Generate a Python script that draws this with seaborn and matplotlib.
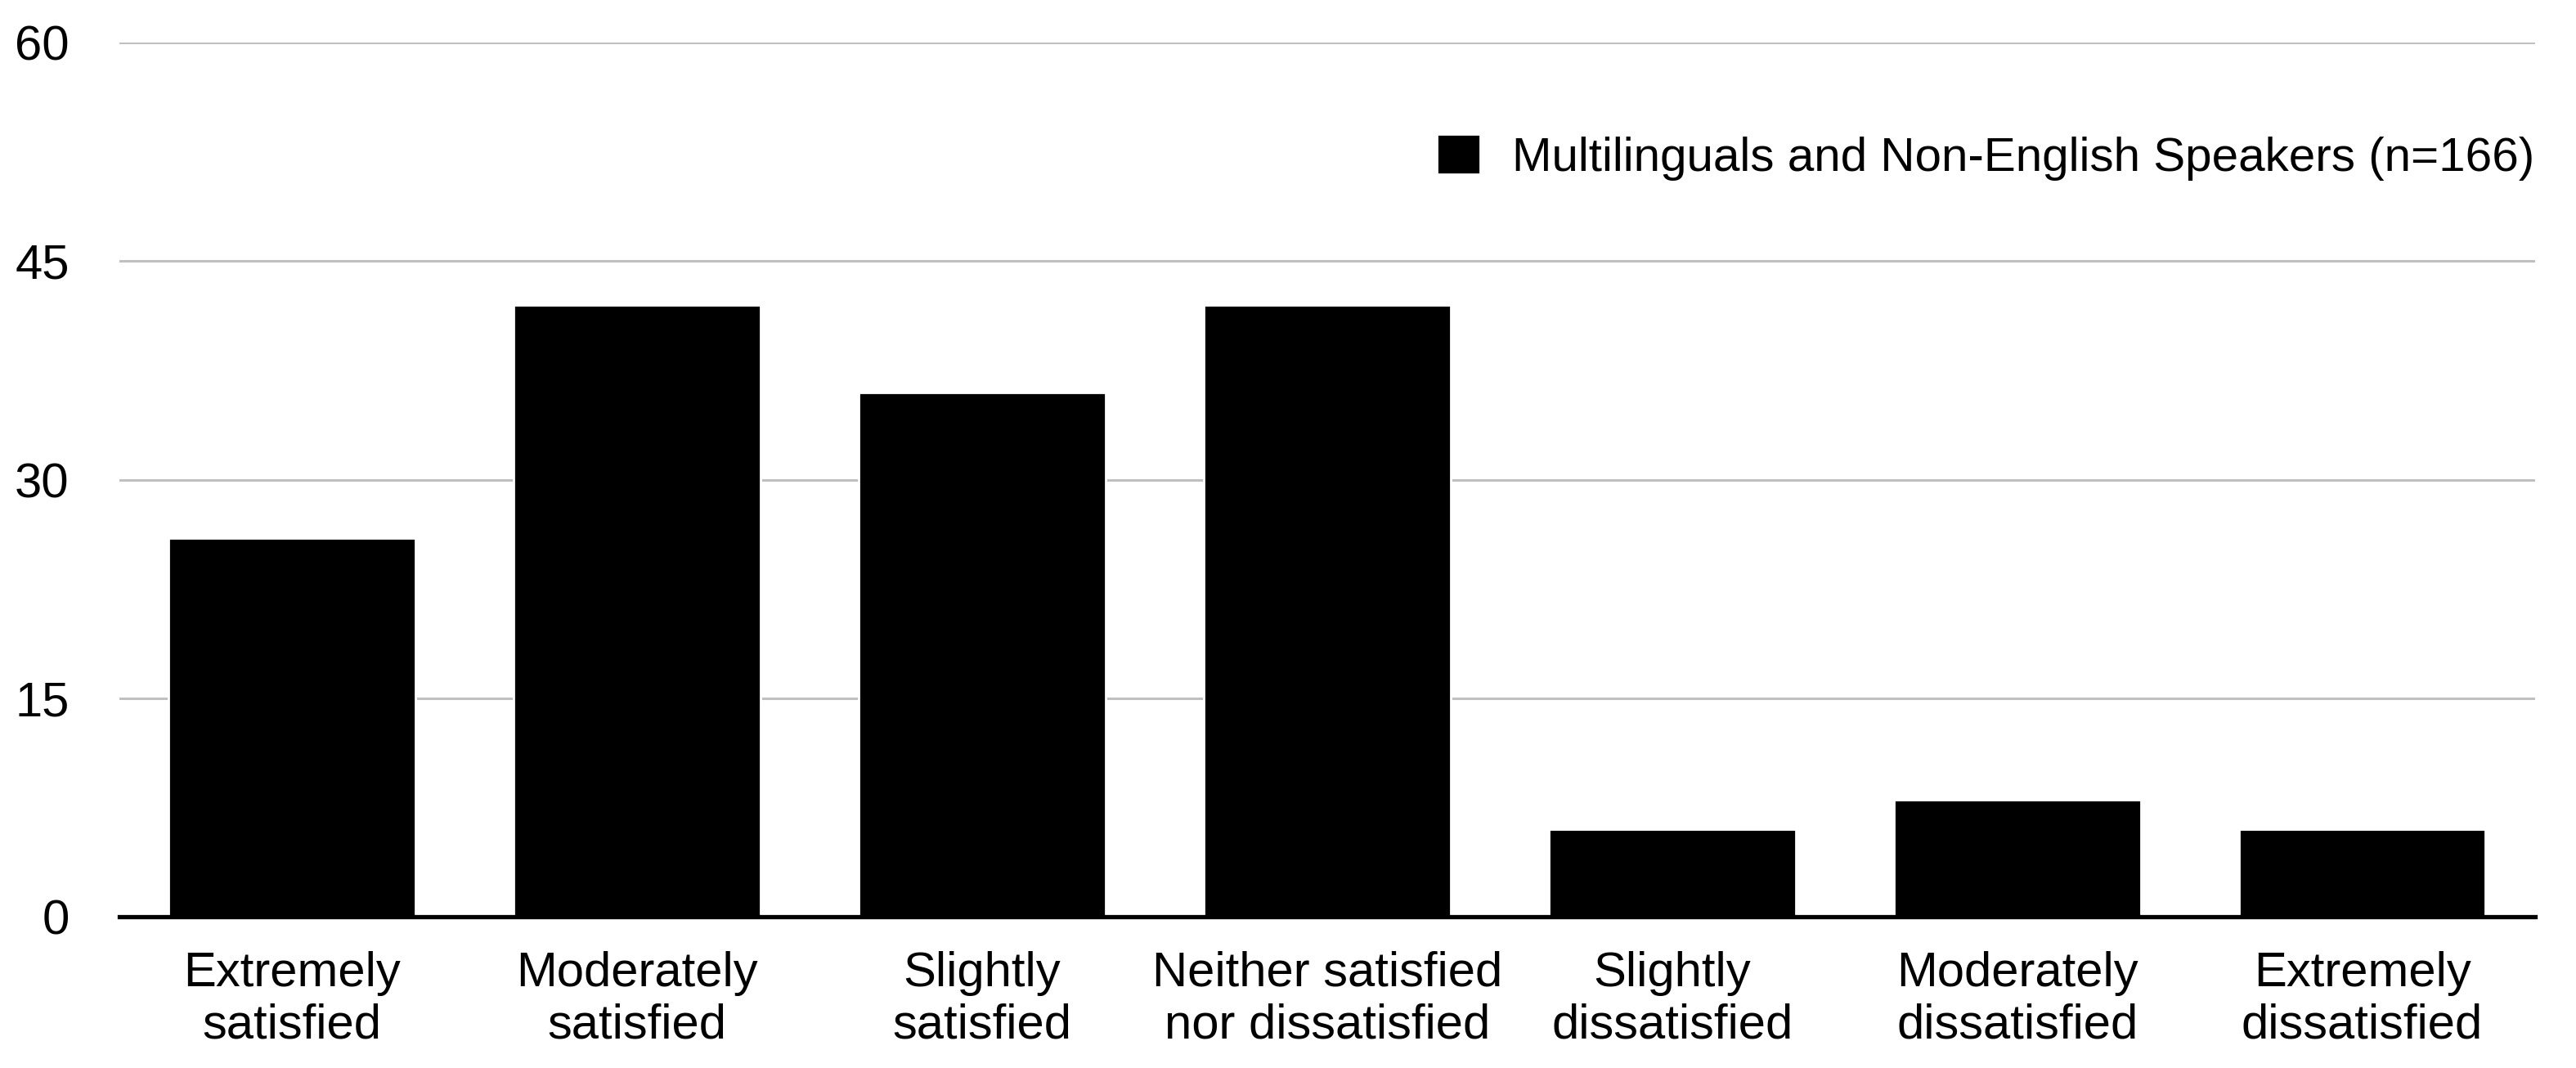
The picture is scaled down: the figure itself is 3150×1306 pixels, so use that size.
import pandas as pd
import seaborn as sns
import matplotlib.pyplot as plt

# satisfaction survey responses
categories = [
    "Extremely\nsatisfied",
    "Moderately\nsatisfied",
    "Slightly\nsatisfied",
    "Neither satisfied\nnor dissatisfied",
    "Slightly\ndissatisfied",
    "Moderately\ndissatisfied",
    "Extremely\ndissatisfied",
]
counts = [26, 42, 36, 42, 6, 8, 6]
series_name = "Multilinguals and Non-English Speakers (n=166)"
y_ticks = [0, 15, 30, 45, 60]

df = pd.DataFrame({"category": categories, "count": counts, "group": series_name})

sns.set_style("white")
plt.rcParams["font.family"] = ["Liberation Sans", "DejaVu Sans"]
plt.rcParams["text.color"] = "black"

fig, ax = plt.subplots(figsize=(15.75, 6.53), dpi=200)
fig.subplots_adjust(left=0.0463, right=0.984, top=0.960, bottom=0.1417)

sns.barplot(data=df, x="category", y="count", hue="group", palette=["black"],
            width=0.715, dodge=False, saturation=1, ax=ax, zorder=3)

ax.set_ylim(0, 60)
ax.set_yticks(y_ticks)
ax.set_xlim(-0.5, len(categories) - 0.5)
ax.yaxis.grid(True, color="#c0c0c0", linewidth=1.1, zorder=0)
ax.set_axisbelow(True)
for s in ["top", "right", "left"]:
    ax.spines[s].set_visible(False)
ax.spines["bottom"].set_linewidth(1.9)
ax.spines["bottom"].set_color("black")
ax.spines["bottom"].set_zorder(4)

ax.tick_params(axis="both", length=0, labelsize=21.5, colors="black")
ax.tick_params(axis="y", pad=22)
ax.tick_params(axis="x", pad=15)
for lab in ax.get_xticklabels():
    lab.set_linespacing(1.2)
ax.set_xlabel("")
ax.set_ylabel("")

ax.legend(loc="center right", bbox_to_anchor=(1.0, 0.869), frameon=False,
          fontsize=21, handlelength=0.92, handleheight=0.92, handletextpad=0.67,
          borderaxespad=0, borderpad=0)

plt.savefig("out.png", dpi=200)
